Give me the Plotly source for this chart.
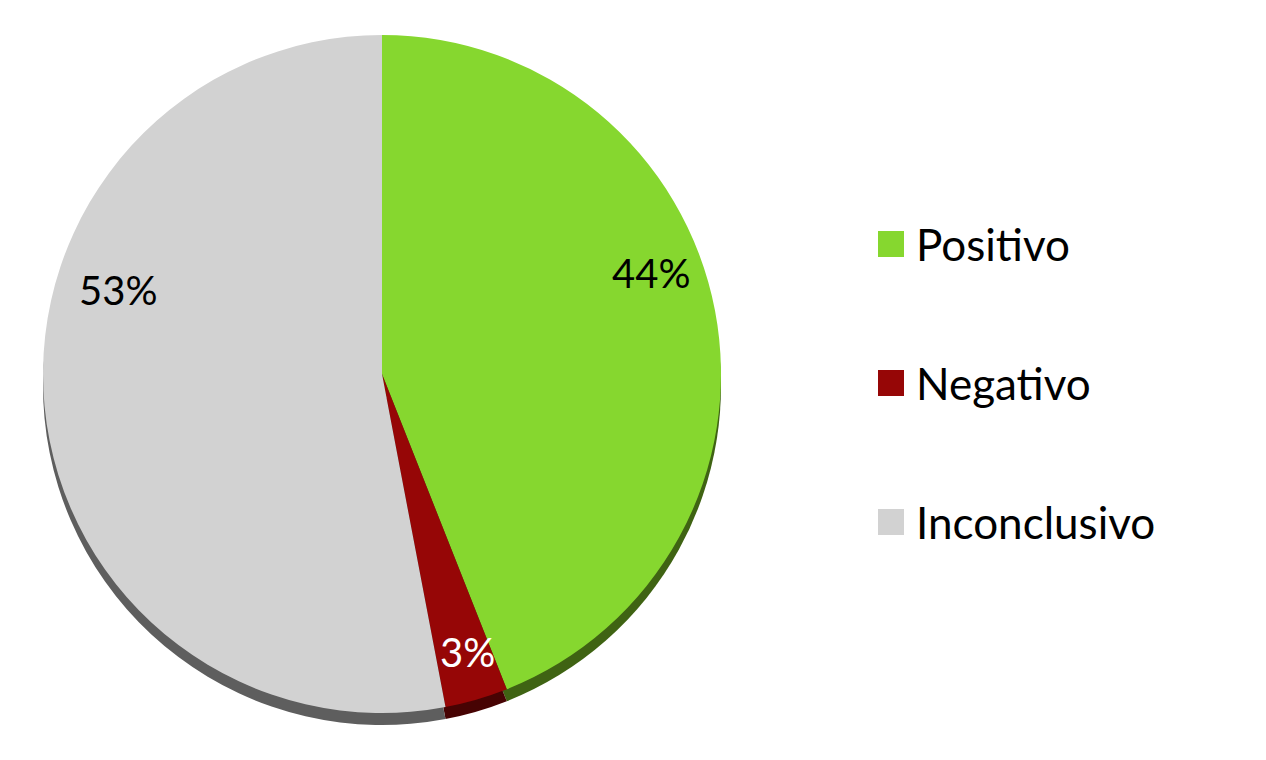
import plotly.graph_objects as go

# ---- data ----
categories = ["Positivo", "Negativo", "Inconclusivo"]
values = [44, 3, 53]
pct_labels = ["44%", "3%", "53%"]

# ---- style ----
face_colors = ["#86D72F", "#960606", "#D2D2D2"]
rim_colors = ["#3F6313", "#470303", "#5E5E5E"]
label_colors = ["#000000", "#FFFFFF", "#000000"]
W, H = 1266, 760
FONT = "Lato"
OFF = 8  # page body margin compensation

cx, cy, r = 382, 374, 339
depth = 12

def px_x(x):
    return (x - OFF) / W

def px_y(y):
    return 1 - (y - OFF) / H

face_dom_x = [px_x(cx - r), px_x(cx + r)]
face_dom_y = [px_y(cy + r), px_y(cy - r)]
rim_dom_y = [px_y(cy + r + depth), px_y(cy - r + depth)]

fig = go.Figure()
# depth / rim layer
fig.add_trace(go.Pie(
    labels=categories, values=values, sort=False, direction="clockwise",
    rotation=0, marker=dict(colors=rim_colors, line=dict(width=0)),
    textinfo="none", hoverinfo="skip", showlegend=False,
    domain=dict(x=face_dom_x, y=rim_dom_y),
))
# face layer
fig.add_trace(go.Pie(
    labels=categories, values=values, sort=False, direction="clockwise",
    rotation=0, marker=dict(colors=face_colors, line=dict(width=0)),
    textinfo="none", showlegend=False,
    domain=dict(x=face_dom_x, y=face_dom_y),
))

# percentage label placement (pixel centres)
label_pos = [(651, 273), (467, 652), (118, 290)]
annotations = []
for txt, col, (x, y) in zip(pct_labels, label_colors, label_pos):
    annotations.append(dict(
        x=px_x(x), y=px_y(y), xref="paper", yref="paper", text=txt,
        showarrow=False, xanchor="center", yanchor="middle",
        font=dict(family=FONT, size=40, color=col),
    ))

# custom legend
legend_y = [244, 383, 522]
sw_x0, sw = 878, 26
text_x = 914
shapes = []
for cat, col, y in zip(categories, face_colors, legend_y):
    shapes.append(dict(
        type="rect", xref="paper", yref="paper",
        x0=px_x(sw_x0), x1=px_x(sw_x0 + sw),
        y0=px_y(y + sw / 2), y1=px_y(y - sw / 2),
        fillcolor=col, line=dict(width=0),
    ))
    annotations.append(dict(
        x=px_x(text_x), y=px_y(y), xref="paper", yref="paper", text=cat,
        showarrow=False, xanchor="left", yanchor="middle",
        font=dict(family=FONT, size=44, color="#000000"),
    ))

fig.update_layout(
    width=W, height=H,
    margin=dict(l=0, r=0, t=0, b=0),
    paper_bgcolor="white", plot_bgcolor="white",
    showlegend=False,
    annotations=annotations, shapes=shapes,
)

fig.write_html("out.html")
